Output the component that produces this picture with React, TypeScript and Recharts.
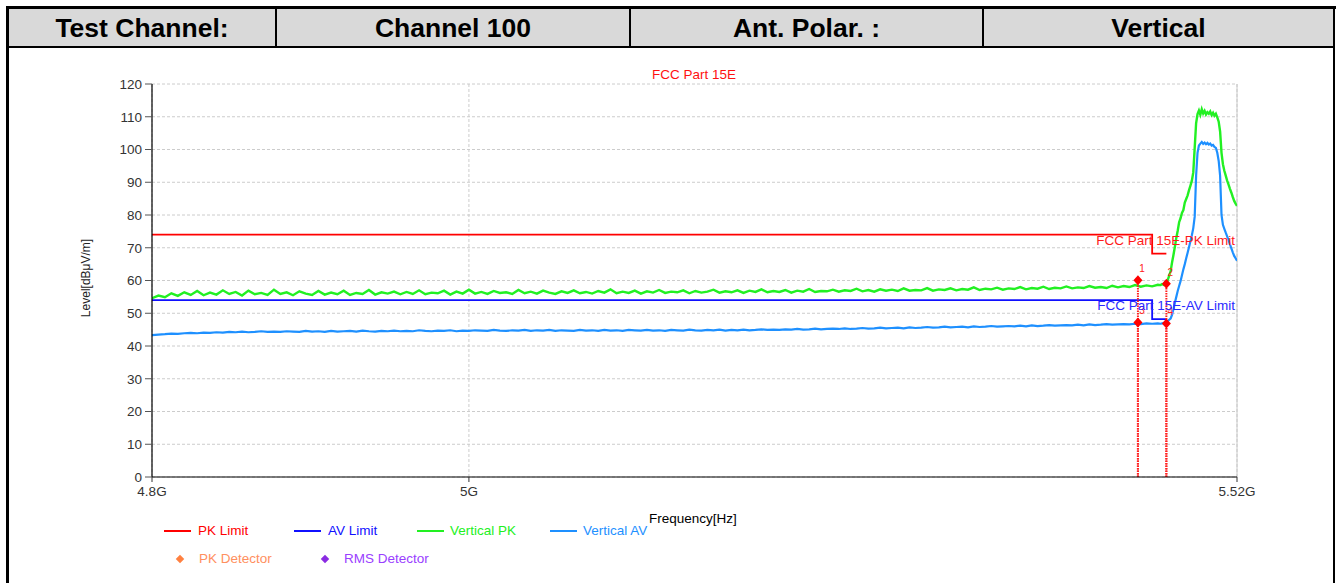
import React from 'react';
import { LineChart, Line, XAxis, YAxis, CartesianGrid, ReferenceLine, ReferenceDot } from 'recharts';

const headerCells = ['Test Channel:', 'Channel 100', 'Ant. Polar. :', 'Vertical'];
const headerWidths = [268, 354, 353, 349];

const chartTitle = 'FCC Part 15E';
const xAxisTitle = 'Frequency[Hz]';
const yAxisTitle = 'Level[dB\u03bcV/m]';

const xTicks = [4800, 5000, 5520];
const xTickLabels = ['4.8G', '5G', '5.52G'];
const yTicks = [0, 10, 20, 30, 40, 50, 60, 70, 80, 90, 100, 110, 120];

// Sweep frequencies, MHz
const freqMHz = [
  4800, 4804, 4808, 4812, 4816, 4820, 4824, 4828, 4832, 4836,
  4840, 4844, 4848, 4852, 4856, 4860, 4864, 4868, 4872, 4876,
  4880, 4884, 4888, 4892, 4896, 4900, 4904, 4908, 4912, 4916,
  4920, 4924, 4928, 4932, 4936, 4940, 4944, 4948, 4952, 4956,
  4960, 4964, 4968, 4972, 4976, 4980, 4984, 4988, 4992, 4996,
  5000, 5004, 5008, 5012, 5016, 5020, 5024, 5028, 5032, 5036,
  5040, 5044, 5048, 5052, 5056, 5060, 5064, 5068, 5072, 5076,
  5080, 5084, 5088, 5092, 5096, 5100, 5104, 5108, 5112, 5116,
  5120, 5124, 5128, 5132, 5136, 5140, 5144, 5148, 5152, 5156,
  5160, 5164, 5168, 5172, 5176, 5180, 5184, 5188, 5192, 5196,
  5200, 5204, 5208, 5212, 5216, 5220, 5224, 5228, 5232, 5236,
  5240, 5244, 5248, 5252, 5256, 5260, 5264, 5268, 5272, 5276,
  5280, 5284, 5288, 5292, 5296, 5300, 5304, 5308, 5312, 5316,
  5320, 5324, 5328, 5332, 5336, 5340, 5344, 5348, 5352, 5356,
  5360, 5364, 5368, 5372, 5376, 5380, 5384, 5388, 5392, 5396,
  5400, 5404, 5408, 5412, 5416, 5420, 5424, 5428, 5432, 5436,
  5440, 5444, 5448, 5452, 5456, 5460, 5464,
  5466, 5467, 5468, 5469, 5470, 5471, 5472, 5473, 5474, 5475,
  5476, 5477, 5478, 5479, 5480, 5481, 5482, 5483, 5484, 5485,
  5486, 5487, 5488, 5489, 5490, 5491, 5492, 5493, 5494, 5495,
  5496, 5497, 5498, 5499, 5500, 5501, 5502, 5503, 5504, 5505,
  5506, 5507, 5508, 5509, 5510, 5511, 5512, 5513, 5514, 5515,
  5516, 5517, 5518, 5519, 5520,
];

// Vertical PK trace, dBuV/m
const verticalPK = [
  54.6, 55.4, 54.9, 56.1, 55.3, 56.4, 55.6, 56.8, 55.5, 56.3,
  55.7, 57.0, 55.9, 56.5, 55.4, 56.9, 55.8, 56.2, 55.6, 57.2,
  55.9, 56.4, 55.5, 56.7, 56.0, 55.6, 56.8, 55.7, 56.3, 55.8,
  56.9, 55.6, 56.2, 55.9, 57.1, 55.7, 56.4, 56.0, 56.6, 55.8,
  56.5, 55.9, 57.0, 55.8, 56.3, 56.1, 56.9, 55.7, 56.6, 56.0,
  57.2, 56.0, 56.5, 55.9, 56.8, 56.2, 56.4, 55.9, 57.1, 56.1,
  56.6, 56.0, 56.9, 56.3, 55.9, 56.7, 56.2, 57.0, 56.1, 56.5,
  56.0, 56.8, 56.3, 57.3, 56.1, 56.6, 56.2, 56.9, 56.0, 56.7,
  56.3, 57.1, 56.2, 56.6, 56.4, 57.0, 56.1, 56.8, 56.3, 56.6,
  57.2, 56.3, 56.7, 56.4, 57.0, 56.2, 56.9, 56.5, 57.3, 56.4,
  56.8, 56.5, 57.1, 56.3, 56.9, 56.6, 57.4, 56.5, 56.8, 56.7,
  57.2, 56.6, 57.0, 56.8, 57.5, 56.7, 57.1, 56.6, 57.3, 56.9,
  57.2, 56.8, 57.6, 56.9, 57.1, 57.0, 57.7, 56.9, 57.3, 57.1,
  57.6, 57.0, 57.4, 57.2, 57.9, 57.1, 57.5, 57.3, 57.8, 57.2,
  57.6, 57.4, 58.0, 57.3, 57.7, 57.5, 58.1, 57.4, 57.8, 57.6,
  58.2, 57.6, 57.9, 57.7, 58.3, 57.8, 58.0, 57.7, 58.4, 57.9,
  58.3, 58.0, 58.6, 58.1, 58.5, 58.2, 58.7,
  58.6, 58.9, 58.7, 59.3, 59.0, 60.2, 61.5, 62.8, 65.5, 67.8,
  70.3, 73.0, 75.2, 77.8, 79.0, 80.6, 81.5, 83.8, 84.9, 86.0,
  87.6, 89.0, 90.5, 93.0, 100.5, 108.0, 110.8, 111.9, 110.6, 112.3,
  111.0, 111.8, 110.7, 111.4, 110.9, 111.6, 110.5, 111.2, 110.3, 110.9,
  109.8, 108.5, 105.5, 99.0, 95.5, 93.5, 92.0, 90.5, 89.3, 88.0,
  86.8, 85.5, 84.3, 83.5, 82.8,
];

// Vertical AV trace, dBuV/m
const verticalAV = [
  43.3, 43.5, 43.6, 43.8, 43.7, 43.9, 44.0, 43.9, 44.1, 44.0,
  44.2, 44.1, 44.3, 44.2, 44.4, 44.2, 44.3, 44.5, 44.3, 44.4,
  44.3, 44.5, 44.4, 44.3, 44.6, 44.4, 44.5, 44.3, 44.6, 44.4,
  44.5, 44.6, 44.4, 44.7, 44.5, 44.4, 44.6, 44.5, 44.7, 44.5,
  44.6, 44.5, 44.8, 44.6, 44.5, 44.7, 44.6, 44.8, 44.5, 44.7,
  44.6, 44.8, 44.7, 44.6, 44.9, 44.7, 44.6, 44.8, 44.7, 44.9,
  44.6, 44.8, 44.7, 44.9, 44.6, 44.8, 44.7, 44.6, 44.9, 44.7,
  44.8, 44.6, 44.9, 44.7, 44.8, 44.6, 44.9, 44.8, 44.7, 44.9,
  44.7, 44.8, 44.6, 44.9, 44.8, 44.7, 45.0, 44.8, 44.7, 44.9,
  44.8, 45.0, 44.7, 44.9, 44.8, 45.0, 44.8, 44.9, 45.1, 44.9,
  45.0, 44.9, 45.1, 45.0, 45.2, 45.0, 45.1, 45.3, 45.1, 45.2,
  45.3, 45.2, 45.4, 45.2, 45.3, 45.5, 45.3, 45.4, 45.6, 45.4,
  45.5, 45.6, 45.4, 45.7, 45.5, 45.6, 45.8, 45.6, 45.7, 45.9,
  45.7, 45.8, 45.9, 45.7, 46.0, 45.8, 45.9, 46.1, 45.9, 46.0,
  46.1, 46.0, 46.2, 46.0, 46.3, 46.1, 46.2, 46.4, 46.2, 46.3,
  46.4, 46.3, 46.5, 46.3, 46.6, 46.4, 46.5, 46.7, 46.5, 46.6,
  46.7, 46.6, 46.8, 46.7, 46.9, 46.8, 46.9,
  46.8, 46.9, 47.0, 46.9, 47.1, 47.6, 48.0, 48.4, 49.5, 51.3,
  53.2, 55.0, 56.8, 58.3, 59.8, 61.6, 63.4, 65.0, 66.8, 68.5,
  70.2, 72.0, 73.8, 76.0, 79.5, 92.0, 99.0, 101.2, 101.8, 102.3,
  101.7, 102.1, 101.6, 102.0, 101.5, 101.8, 101.2, 101.4, 100.8, 100.5,
  99.0, 96.5, 92.0, 80.0, 77.0, 75.8, 74.6, 73.5, 72.3, 71.0,
  69.8, 68.6, 67.5, 66.8, 66.0,
];

const pkLimitFreq = [4800, 5460, 5460, 5470];
const pkLimitLevel = [74, 74, 68.2, 68.2];
const avLimitFreq = [4800, 5460, 5460, 5470];
const avLimitLevel = [54, 54, 48.2, 48.2];

const markerIds = ['1', '2', '3', '4'];
const markerFreq = [5450, 5470, 5450, 5470];
const markerLevel = [60.1, 59.0, 47.2, 46.9];

const C_PK_LIMIT = '#ff0000';
const C_AV_LIMIT = '#1010ff';
const C_V_PK = '#22f022';
const C_V_AV = '#1e90ff';
const C_PK_DET = '#ff8040';
const C_RMS_DET = '#8a2be2';

const FONT = '"Liberation Sans", Arial, Helvetica, sans-serif';

const pkData = freqMHz.map((f, i) => ({ f, v: verticalPK[i] }));
const avData = freqMHz.map((f, i) => ({ f, v: verticalAV[i] }));
const pkLimitData = pkLimitFreq.map((f, i) => ({ f, v: pkLimitLevel[i] }));
const avLimitData = avLimitFreq.map((f, i) => ({ f, v: avLimitLevel[i] }));

const Diamond = (props: any) => {
  const { cx, cy, id } = props;
  if (cx == null || cy == null) return null;
  return (
    <g>
      <polygon
        points={`${cx},${cy - 5} ${cx + 4.5},${cy} ${cx},${cy + 5} ${cx - 4.5},${cy}`}
        fill="#ff0000"
      />
      <text x={cx + 4} y={cy - 8} fill="#ff2020" fontSize={10} fontFamily={FONT} textAnchor="middle">
        {id}
      </text>
    </g>
  );
};

const legendRow1 = [
  { label: 'PK Limit', color: C_PK_LIMIT, lineX: 164, textX: 198 },
  { label: 'AV Limit', color: C_AV_LIMIT, lineX: 294, textX: 328 },
  { label: 'Vertical PK', color: C_V_PK, lineX: 417, textX: 450 },
  { label: 'Vertical AV', color: C_V_AV, lineX: 550, textX: 583 },
];
const legendRow2 = [
  { label: 'PK Detector', color: C_PK_DET, textColor: '#ff9060', dotX: 180, textX: 199 },
  { label: 'RMS Detector', color: C_RMS_DET, textColor: '#9a40ff', dotX: 325, textX: 344 },
];

export default function App() {
  return (
    <div style={{ position: 'absolute', left: 0, top: 0, width: 1336, height: 583, background: '#fff', fontFamily: FONT, overflow: 'hidden' }}>
      {/* frame */}
      <div style={{ position: 'absolute', left: 6, top: 6, width: 3, height: 577, background: '#000' }} />
      <div style={{ position: 'absolute', left: 6, top: 6, width: 1330, height: 3, background: '#000' }} />
      <div style={{ position: 'absolute', left: 1333, top: 6, width: 2, height: 577, background: '#000' }} />
      <div style={{ position: 'absolute', left: 9, top: 9, width: 1324, height: 37, background: '#d9d9d9', display: 'flex' }}>
        {headerCells.map((c, i) => (
          <div
            key={c}
            style={{
              width: headerWidths[i],
              height: 37,
              boxSizing: 'border-box',
              borderRight: i < headerCells.length - 1 ? '2px solid #000' : 'none',
              display: 'flex',
              alignItems: 'center',
              justifyContent: 'center',
              paddingTop: 2,
              fontWeight: 'bold',
              fontSize: 26.5,
              color: '#000',
            }}
          >
            {c}
          </div>
        ))}
      </div>
      <div style={{ position: 'absolute', left: 9, top: 46, width: 1324, height: 2, background: '#000' }} />

      {/* chart */}
      <div style={{ position: 'absolute', left: 0, top: 0 }}>
        <LineChart width={1336} height={583} margin={{ top: 84, right: 99, bottom: 76, left: 92 }}>
          <CartesianGrid stroke="#cccccc" strokeDasharray="3 2" />
          <XAxis
            dataKey="f"
            type="number"
            scale="log"
            domain={[4800, 5520]}
            ticks={xTicks}
            allowDataOverflow
            height={30}
            tickFormatter={(v: number) => xTickLabels[xTicks.indexOf(v)] ?? ''}
            tick={{ fontSize: 13.5, fill: '#333', fontFamily: FONT }}
            tickLine={{ stroke: '#333' }}
            axisLine={{ stroke: '#000', strokeWidth: 1.2 }}
            tickSize={5}
            tickMargin={4}
          />
          <YAxis
            type="number"
            domain={[0, 120]}
            ticks={yTicks}
            width={60}
            tick={{ fontSize: 13.5, fill: '#333', fontFamily: FONT }}
            tickLine={{ stroke: '#555' }}
            axisLine={{ stroke: '#000', strokeWidth: 1.2 }}
            tickSize={7}
            tickMargin={3}
            interval={0}
          />
          <ReferenceLine x={5520} stroke="#c8c8c8" strokeWidth={1} />
          <Line data={pkData} dataKey="v" type="linear" stroke={C_V_PK} strokeWidth={2.4} strokeLinejoin="miter" dot={false} isAnimationActive={false} />
          <Line data={avData} dataKey="v" type="linear" stroke={C_V_AV} strokeWidth={2.2} dot={false} isAnimationActive={false} />
          <Line data={pkLimitData} dataKey="v" type="linear" stroke={C_PK_LIMIT} strokeWidth={1.8} dot={false} isAnimationActive={false} />
          <Line data={avLimitData} dataKey="v" type="linear" stroke={C_AV_LIMIT} strokeWidth={1.8} dot={false} isAnimationActive={false} />
          {markerIds.map((id, i) => (
            <ReferenceLine
              key={'ml' + id}
              segment={[{ x: markerFreq[i], y: 0 }, { x: markerFreq[i], y: markerLevel[i] }]}
              stroke="#ff2020"
              strokeWidth={2}
              strokeDasharray="1.5 1"
            />
          ))}
          {markerIds.map((id, i) => (
            <ReferenceDot
              key={'md' + id}
              x={markerFreq[i]}
              y={markerLevel[i]}
              r={5}
              shape={(p: any) => <Diamond {...p} id={id} />}
            />
          ))}
        </LineChart>
      </div>

      {/* chart texts */}
      <div style={{ position: 'absolute', left: 594, width: 200, top: 67, textAlign: 'center', fontSize: 13.5, color: '#ff1010' }}>{chartTitle}</div>
      <div style={{ position: 'absolute', left: 1034, width: 201, top: 233, textAlign: 'right', fontSize: 13.5, color: '#ff1a1a', whiteSpace: 'nowrap' }}>FCC Part 15E-PK Limit</div>
      <div style={{ position: 'absolute', left: 1034, width: 201, top: 298, textAlign: 'right', fontSize: 13.5, color: '#2a2aff', whiteSpace: 'nowrap' }}>FCC Part 15E-AV Limit</div>
      <div style={{ position: 'absolute', left: 649, top: 511, fontSize: 13.5, color: '#000', whiteSpace: 'nowrap' }}>{xAxisTitle}</div>
      <div style={{ position: 'absolute', left: 86, top: 278, width: 0, height: 0 }}>
        <div style={{ position: 'absolute', transform: 'translate(-50%, -50%) rotate(-90deg)', fontSize: 12, color: '#222', whiteSpace: 'nowrap' }}>{yAxisTitle}</div>
      </div>

      {/* legend */}
      {legendRow1.map((l) => (
        <React.Fragment key={l.label}>
          <div style={{ position: 'absolute', left: l.lineX, top: 530, width: 27, height: 2, background: l.color }} />
          <div style={{ position: 'absolute', left: l.textX, top: 523, fontSize: 13.5, color: l.color, whiteSpace: 'nowrap' }}>{l.label}</div>
        </React.Fragment>
      ))}
      {legendRow2.map((l) => (
        <React.Fragment key={l.label}>
          <div style={{ position: 'absolute', left: l.dotX - 3, top: 556, width: 6, height: 6, background: l.color, transform: 'rotate(45deg)' }} />
          <div style={{ position: 'absolute', left: l.textX, top: 551, fontSize: 13.5, color: l.textColor, whiteSpace: 'nowrap' }}>{l.label}</div>
        </React.Fragment>
      ))}
    </div>
  );
}
